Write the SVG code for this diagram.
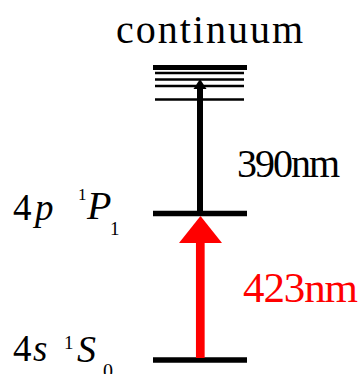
<svg xmlns="http://www.w3.org/2000/svg" width="361" height="374" viewBox="0 0 361 374">
<style>
text{font-family:'Liberation Serif','Times New Roman',serif}
.lvl{stroke:#000;stroke-width:5.5}
.cl{stroke:#000;stroke-width:2.5}
.it{font-style:italic}
</style>
<rect width="361" height="374" fill="#fff"/>
<g id="continuum">
<text x="116" y="43" font-size="40" textLength="187" lengthAdjust="spacing">continuum</text>
<rect x="153" y="65" width="94" height="5" fill="#000"/>
<line class="cl" x1="155" y1="73" x2="244" y2="73"/>
<line class="cl" x1="155" y1="79.5" x2="244" y2="79.5"/>
<line class="cl" x1="155" y1="86" x2="244" y2="86"/>
<line class="cl" x1="155" y1="99.5" x2="244" y2="99.5"/>
</g>
<g id="level-4p">
<line class="lvl" x1="153" y1="213.5" x2="247" y2="213.5"/>
<text font-size="37"><tspan x="13" y="220">4</tspan><tspan class="it" x="35" y="220">p</tspan><tspan x="78" y="200" font-size="17">1</tspan><tspan class="it" x="87" y="219" font-size="40">P</tspan><tspan x="110" y="235" font-size="19">1</tspan></text>
</g>
<g id="level-4s">
<line class="lvl" x1="153" y1="360" x2="247" y2="360"/>
<text font-size="37"><tspan x="13" y="361">4</tspan><tspan class="it" x="33" y="361">s</tspan><tspan x="64" y="349" font-size="19">1</tspan><tspan class="it" x="77" y="362" font-size="38">S</tspan><tspan x="103" y="378" font-size="20">0</tspan></text>
</g>
<g id="connectors">
<line x1="200" y1="211" x2="200" y2="87" stroke="#000" stroke-width="6"/>
<polygon points="193.5,89 200,79 206.5,89" fill="#000"/>
<line x1="200.3" y1="242" x2="200.3" y2="358" stroke="#f00" stroke-width="8.7"/>
<polygon points="179,243 200.5,216 222,243" fill="#f00"/>
<text x="237" y="177" font-size="40" textLength="103" lengthAdjust="spacing">390nm</text>
<text x="243" y="302" font-size="43" textLength="115" lengthAdjust="spacing" fill="#f00">423nm</text>
</g>
</svg>
